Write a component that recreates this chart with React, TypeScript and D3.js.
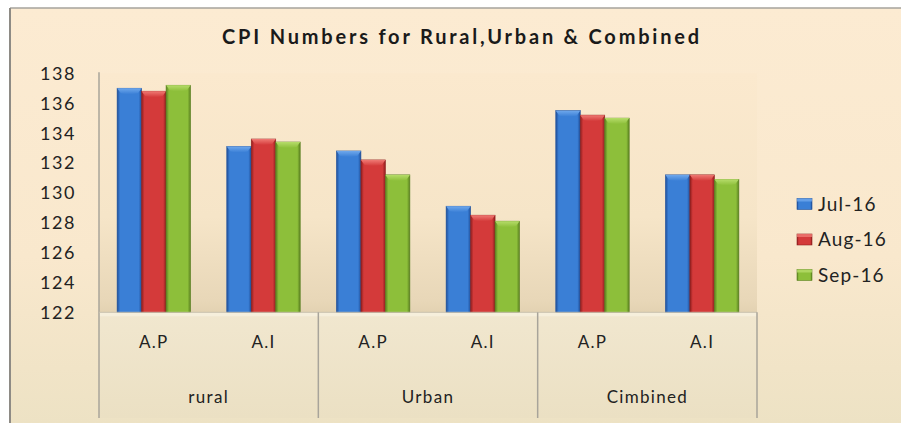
import React from "react";
import * as d3 from "d3";

const groups = ["rural", "Urban", "Cimbined"];
const subCats = ["A.P", "A.I"];
const seriesNames = ["Jul-16", "Aug-16", "Sep-16"];
const jul = [137.0, 133.1, 132.8, 129.1, 135.5, 131.2];
const aug = [136.8, 133.6, 132.2, 128.5, 135.2, 131.2];
const sep = [137.2, 133.4, 131.2, 128.1, 135.0, 130.9];
const yTicks = [122, 124, 126, 128, 130, 132, 134, 136, 138];
const title = "CPI Numbers for Rural,Urban & Combined";

const colors = [
  { dark: "#1f4f9a", mid: "#3a7fd6", light: "#6fa8ec" },
  { dark: "#8f1e1e", mid: "#d43a3a", light: "#ef7a74" },
  { dark: "#5a8020", mid: "#8dbf3a", light: "#b6dc6a" },
];

export default function App() {
  const W = 901, H = 423;
  const left = 99, right = 757, top = 73.3, base = 312.3, bottomDiv = 418;
  const cats = groups.flatMap((g) => subCats.map((s) => `${g}|${s}`));
  const x0 = d3.scaleBand<string>().domain(cats).range([left, right]).paddingInner(0).paddingOuter(0);
  const innerW = x0.bandwidth() * (3 / 4.48);
  const x1 = d3.scaleBand<string>().domain(seriesNames).range([0, innerW]);
  const y = d3.scaleLinear().domain([122, 138]).range([base, top]);
  const series = [jul, aug, sep];
  const groupW = x0.bandwidth() * 2;
  const font = "Lato, 'Open Sans', sans-serif";

  return (
    <svg width={W} height={H} style={{ position: "absolute", left: 0, top: 0 }} xmlns="http://www.w3.org/2000/svg">
      <defs>
        <linearGradient id="outerBg" x1="0" y1="0" x2="0" y2="1">
          <stop offset="0" stopColor="#fcebd2" />
          <stop offset="0.6" stopColor="#f9e8cd" />
          <stop offset="1" stopColor="#ede2c4" />
        </linearGradient>
        <linearGradient id="plotBg" x1="0" y1="0" x2="0" y2="1">
          <stop offset="0" stopColor="#fbe9ce" />
          <stop offset="0.6" stopColor="#f6e5c8" />
          <stop offset="0.95" stopColor="#e8d7b8" />
          <stop offset="1" stopColor="#e3d2b2" />
        </linearGradient>
        <linearGradient id="floorBg" x1="0" y1="0" x2="0" y2="1">
          <stop offset="0" stopColor="#f1e7cf" />
          <stop offset="1" stopColor="#ebe0c3" />
        </linearGradient>
        {colors.map((c, i) => (
          <linearGradient key={i} id={`bar${i}`} x1="0" y1="0" x2="1" y2="0">
            <stop offset="0" stopColor={c.dark} />
            <stop offset="0.12" stopColor={c.mid} />
            <stop offset="0.88" stopColor={c.mid} />
            <stop offset="1" stopColor={c.dark} />
          </linearGradient>
        ))}
        {colors.map((c, i) => (
          <linearGradient key={i} id={`cap${i}`} x1="0" y1="0" x2="0" y2="1">
            <stop offset="0" stopColor={c.light} />
            <stop offset="1" stopColor={c.mid} />
          </linearGradient>
        ))}
      </defs>
      <rect x={0} y={0} width={W} height={H} fill="#ffffff" />
      <rect x={10} y={8} width={W - 10} height={H - 8} fill="url(#outerBg)" />
      <line x1={10} y1={8} x2={W} y2={8} stroke="#a6a39c" strokeWidth={1.5} />
      <line x1={10} y1={8} x2={10} y2={H} stroke="#8e8b85" strokeWidth={2} />

      <rect x={left} y={top} width={right - left} height={base - top} fill="url(#plotBg)" />
      <rect x={left} y={base} width={right - left} height={bottomDiv - base} fill="url(#floorBg)" />
      <rect x={left} y={base} width={right - left} height={4} fill="#f6efdc" />

      <text x={462} y={44} textAnchor="middle" fontFamily={font} fontWeight="bold" fontSize={20} letterSpacing={2.8} fill="#1a1a1a">
        {title}
      </text>

      {yTicks.map((t) => (
        <text key={t} x={76} y={y(t)} dy="0.36em" textAnchor="end" fontFamily={font} fontSize={18} letterSpacing={1.6} fill="#222">
          {t}
        </text>
      ))}

      {cats.map((c, ci) => {
        const cx = x0(c)! + (x0.bandwidth() - innerW) / 2;
        return series.map((s, si) => {
          const bx = cx + x1(seriesNames[si])!;
          const bw = x1.bandwidth();
          const by = y(s[ci]);
          return (
            <g key={`${ci}-${si}`}>
              <rect x={bx} y={by} width={bw} height={base - by} fill={`url(#bar${si})`} stroke={colors[si].dark} strokeWidth={0.6} />
              <path
                d={`M${bx},${by} L${bx + bw},${by} L${bx + bw * 0.85},${by + 5} Q${bx + bw / 2},${by + 7} ${bx + bw * 0.15},${by + 5} Z`}
                fill={`url(#cap${si})`}
              />
            </g>
          );
        });
      })}

      <line x1={left} y1={top - 1} x2={left} y2={bottomDiv} stroke="#a8a49a" strokeWidth={1.5} />
      <line x1={left} y1={base} x2={right} y2={base} stroke="#c9c1ae" strokeWidth={1} />
      {groups.map((g) => {
        const gx = x0(`${g}|${subCats[0]}`)!;
        return (
          <g key={g}>
            <line x1={gx + groupW} y1={base} x2={gx + groupW} y2={bottomDiv} stroke="#a8a49a" strokeWidth={1.5} />
            <text x={gx + groupW / 2} y={397} dy="0.36em" textAnchor="middle" fontFamily={font} fontSize={17} letterSpacing={1.3} fill="#222">
              {g}
            </text>
          </g>
        );
      })}
      {cats.map((c) => (
        <text key={c} x={x0(c)! + x0.bandwidth() / 2} y={342} dy="0.36em" textAnchor="middle" fontFamily={font} fontSize={17} letterSpacing={1.3} fill="#222">
          {c.split("|")[1]}
        </text>
      ))}

      {seriesNames.map((n, i) => {
        const ly = 204 + i * 35.5;
        return (
          <g key={n}>
            <rect x={797} y={ly - 5.5} width={15} height={11} fill={`url(#bar${i})`} stroke={colors[i].dark} strokeWidth={0.6} />
            <rect x={797} y={ly - 5.5} width={15} height={3} fill={colors[i].light} opacity={0.8} />
            <text x={818} y={ly} dy="0.36em" fontFamily={font} fontSize={19} letterSpacing={1.1} fill="#222">
              {n}
            </text>
          </g>
        );
      })}
    </svg>
  );
}
